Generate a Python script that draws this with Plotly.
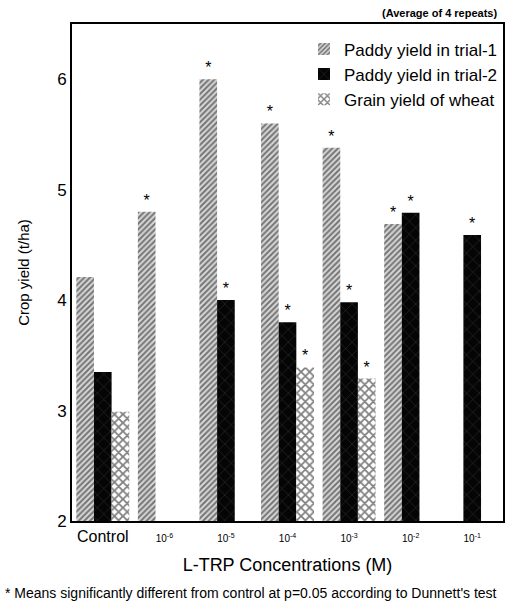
import plotly.graph_objects as go

categories = ["Control", "1e-6", "1e-5", "1e-4", "1e-3", "1e-2", "1e-1"]
tick_labels = [
    "Control",
    '<span style="font-size:10px">10<sup>-6</sup></span>',
    '<span style="font-size:10px">10<sup>-5</sup></span>',
    '<span style="font-size:10px">10<sup>-4</sup></span>',
    '<span style="font-size:10px">10<sup>-3</sup></span>',
    '<span style="font-size:10px">10<sup>-2</sup></span>',
    '<span style="font-size:10px">10<sup>-1</sup></span>',
]
paddy_trial1 = [4.21, 4.80, 6.00, 5.60, 5.38, 4.69, None]
paddy_trial2 = [3.35, None, 4.00, 3.80, 3.98, 4.79, 4.59]
wheat_grain = [2.99, None, None, 3.39, 3.29, None, None]
sig_trial1 = ["", "*", "*", "*", "*", "*", ""]
sig_trial2 = ["", "", "*", "*", "*", "*", "*"]
sig_wheat = ["", "", "", "*", "*", "", ""]

FONT = "Liberation Sans, Arial, sans-serif"

fig = go.Figure()
fig.add_trace(go.Bar(
    name="Paddy yield in trial-1", x=categories, y=paddy_trial1,
    text=sig_trial1, textposition="outside",
    marker=dict(color="white", line=dict(width=0),
                pattern=dict(shape="/", fgcolor="#111111", bgcolor="#d8d8d8", size=4, solidity=0.5)),
))
fig.add_trace(go.Bar(
    name="Paddy yield in trial-2", x=categories, y=paddy_trial2,
    text=sig_trial2, textposition="outside",
    marker=dict(color="black", line=dict(width=0),
                pattern=dict(shape="x", fgcolor="#5a5a5a", bgcolor="#050505", size=9, solidity=0.12)),
))
fig.add_trace(go.Bar(
    name="Grain yield of wheat", x=categories, y=wheat_grain,
    text=sig_wheat, textposition="outside",
    marker=dict(color="white", line=dict(width=0),
                pattern=dict(shape="x", fgcolor="black", bgcolor="white", size=6, solidity=0.5)),
))
fig.update_traces(textfont=dict(color="black", size=16, family=FONT),
                  constraintext="none", cliponaxis=False)

fig.update_layout(
    width=508, height=603,
    margin=dict(l=72, r=3, t=24, b=82),
    paper_bgcolor="white", plot_bgcolor="white",
    barmode="group", bargap=0.14, bargroupgap=0,
    font=dict(family=FONT, color="black"),
    showlegend=True,
    legend=dict(x=1.0, y=0.985, xanchor="right", yanchor="top",
                bgcolor="rgba(0,0,0,0)", font=dict(size=17, family=FONT),
                tracegroupgap=0, itemwidth=30),
    xaxis=dict(
        type="category", tickvals=categories, ticktext=tick_labels,
        tickfont=dict(size=16, family=FONT), ticks="",
        showline=True, linecolor="black", linewidth=2, mirror=True,
        title=dict(text="L-TRP Concentrations (M)", font=dict(size=18, family=FONT), standoff=14),
        range=[-0.5, 6.5],
    ),
    yaxis=dict(
        range=[2, 6.5], tickvals=[2, 3, 4, 5, 6], ticks="",
        tickfont=dict(size=17, family=FONT), showgrid=False, zeroline=False,
        showline=True, linecolor="black", linewidth=2, mirror=True,
        title=dict(text="Crop yield (t/ha)", font=dict(size=15, family=FONT), standoff=24),
    ),
    annotations=[
        dict(text="<b>(Average of 4 repeats)</b>", xref="paper", yref="paper",
             x=0.99, y=1.0, xanchor="right", yanchor="bottom", yshift=3,
             showarrow=False, font=dict(size=11, family=FONT)),
        dict(text="* Means significantly different from control at p=0.05 according to Dunnett's test",
             xref="paper", yref="paper", x=-0.16, y=0, xanchor="left", yanchor="top", yshift=-62,
             showarrow=False, font=dict(size=14, family=FONT)),
    ],
)

fig.write_html("out.html", config={"displayModeBar": False},
               post_script="document.body.style.margin='0';document.body.style.overflow='hidden';")
